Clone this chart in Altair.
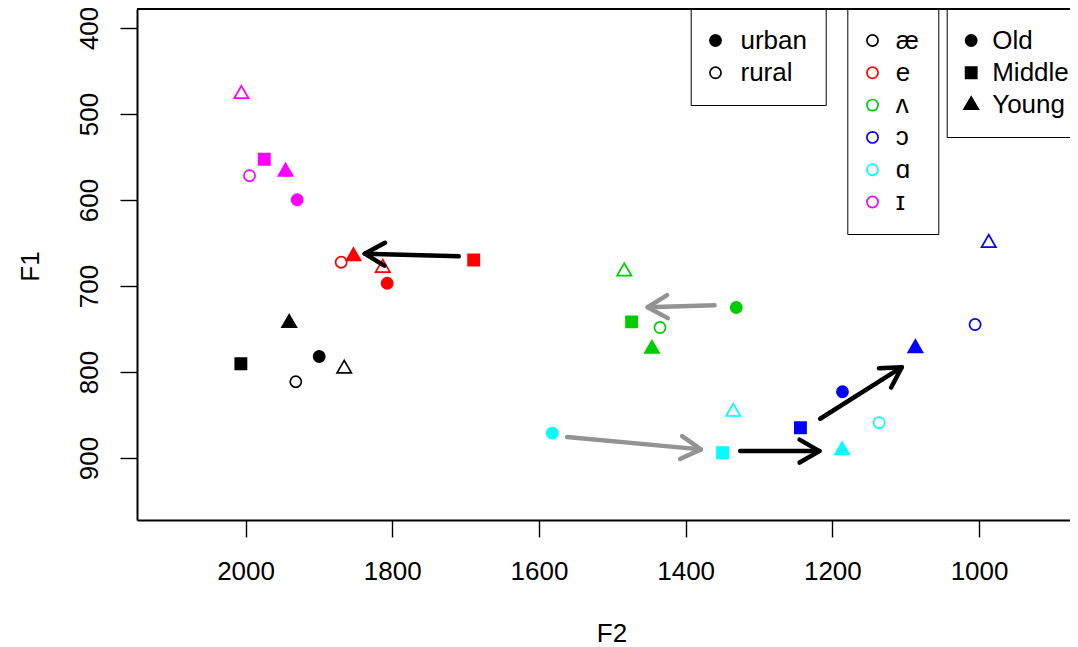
import math
import altair as alt
import pandas as pd

FONT = "Liberation Sans"

# ---------------- data ----------------
vowels = ["æ", "e", "ʌ", "ɔ", "ɑ", "ɪ"]
vowel_colors = ["#000000", "#FF0000", "#00CD00", "#0000FF", "#00FFFF", "#FF00FF"]
ages = ["Old", "Middle", "Young"]
areas = ["urban", "rural"]

pt_vowel = ["æ"] * 5 + ["e"] * 5 + ["ʌ"] * 5 + ["ɔ"] * 5 + ["ɑ"] * 5 + ["ɪ"] * 5
pt_area = ["urban", "urban", "urban", "rural", "rural"] * 6
pt_age = ["Old", "Middle", "Young", "Old", "Young"] * 6
pt_f2 = [1899.6, 2006.4, 1940.5, 1931.5, 1865.5,
         1806.9, 1689.0, 1852.9, 1869.6, 1812.9,
         1331.0, 1473.7, 1446.0, 1435.0, 1483.7,
         1186.2, 1243.5, 1086.8, 1005.4, 986.8,
         1581.7, 1349.7, 1186.6, 1136.2, 1335.1,
         1929.6, 1974.5, 1945.5, 1994.6, 2005.7]
pt_f1 = [781.9, 790.4, 743.1, 811.3, 796.1,
         696.8, 669.7, 665.5, 672.4, 679.0,
         725.0, 741.7, 773.1, 748.3, 683.1,
         822.9, 864.7, 772.3, 744.8, 650.0,
         871.0, 893.8, 891.0, 858.9, 846.3,
         599.7, 552.7, 567.2, 571.8, 476.9]

arrow_f2_from = [1709.4, 1360.6, 1561.7, 1325.6, 1216.6]
arrow_f1_from = [665.5, 722.4, 875.6, 891.9, 854.3]
arrow_f2_to = [1837.5, 1451.9, 1379.2, 1217.6, 1105.3]
arrow_f1_to = [662.4, 724.7, 889.9, 891.9, 794.4]
arrow_kind = ["black", "grey", "grey", "black", "black"]

x_ticks = [2000, 1800, 1600, 1400, 1200, 1000]
y_ticks = [400, 500, 600, 700, 800, 900]

# ---------------- layout ----------------
W, H = 933, 511
X_DOM = [876, 2148]
Y_DOM = [378, 972]
kx = W / (X_DOM[1] - X_DOM[0])
ky = H / (Y_DOM[1] - Y_DOM[0])

points = pd.DataFrame({"vowel": pt_vowel, "area": pt_area, "age": pt_age,
                       "F2": pt_f2, "F1": pt_f1})

angles = []
for a, b, c, d in zip(arrow_f2_from, arrow_f1_from, arrow_f2_to, arrow_f1_to):
    dx = -(c - a) * kx
    dy = (d - b) * ky
    angles.append(math.degrees(math.atan2(dy, dx)) % 360)
arrows = pd.DataFrame({"x1": arrow_f2_from, "y1": arrow_f1_from,
                       "x2": arrow_f2_to, "y2": arrow_f1_to,
                       "kind": arrow_kind, "angle": angles})

TRI = "M0,-1.478L1.28,0.739L-1.28,0.739Z"
HEAD = "M-1,-0.577L0,0L-1,0.577"

xs = alt.Scale(domain=X_DOM, reverse=True, nice=False, zero=False)
ys = alt.Scale(domain=Y_DOM, reverse=True, nice=False, zero=False)

axis_common = dict(grid=False, domainColor="black", domainWidth=2,
                   tickColor="black", tickWidth=1.4, tickSize=17,
                   labelFont=FONT, labelFontSize=26, labelColor="black",
                   titleFont=FONT, titleFontSize=26, titleFontWeight="normal",
                   titleColor="black", labelFlush=False, labelOverlap=False,
                   labelBound=False, format="d")

x_enc = alt.X("F2:Q", scale=xs, axis=alt.Axis(
    values=x_ticks, title="F2", labelBaseline="middle", labelPadding=34.5,
    titleX=474.5, titleY=113.5, titleBaseline="middle", titleAlign="center",
    **axis_common))
y_enc = alt.Y("F1:Q", scale=ys, axis=alt.Axis(
    values=y_ticks, title="F1", labelAngle=270, labelAlign="center",
    labelBaseline="middle", labelPadding=30.5, titleAngle=270,
    titleX=-106.5, titleY=257, titleAlign="center", titleBaseline="middle",
    **axis_common))

leg_common = dict(orient="none", legendY=0, title=None, labelFont=FONT,
                  labelFontSize=26, labelColor="black", padding=18.5,
                  rowPadding=6.3, symbolSize=125, symbolStrokeWidth=1.7,
                  strokeColor="black", symbolOpacity=1)

main = alt.Chart(points).transform_calculate(
    fillkey="datum.area == 'urban' ? datum.vowel : 'none'"
).mark_point(size=125, strokeWidth=1.7, opacity=1).encode(
    x=x_enc,
    y=y_enc,
    stroke=alt.Stroke("vowel:N", scale=alt.Scale(domain=vowels, range=vowel_colors),
                      legend=alt.Legend(legendX=710.3, labelOffset=10.2,
                                        symbolOffset=-6.3,
                                        symbolFillColor="transparent",
                                        symbolType="circle", **leg_common)),
    fill=alt.Fill("fillkey:N", scale=alt.Scale(domain=vowels + ["none"],
                                               range=vowel_colors + ["transparent"]),
                  legend=None),
    shape=alt.Shape("age:N", scale=alt.Scale(domain=ages, range=["circle", "square", TRI]),
                    legend=alt.Legend(legendX=809.7, labelOffset=8,
                                      symbolOffset=-7,
                                      symbolFillColor="black",
                                      symbolStrokeColor="black", **leg_common)),
)

area_legend = alt.Chart(points).mark_point(size=125, opacity=0).encode(
    x=alt.X("F2:Q", scale=xs),
    y=alt.Y("F1:Q", scale=ys),
    fill=alt.Fill("area:N", scale=alt.Scale(domain=areas, range=["black", "white"]),
                  legend=alt.Legend(legendX=553.7, labelOffset=12,
                                    symbolOffset=-6.7,
                                    symbolStrokeColor="black",
                                    symbolType="circle", **leg_common)),
)

top_rule = alt.Chart(points).mark_rule(color="black", strokeWidth=2).encode(
    y=alt.value(0))

layers = [area_legend, main, top_rule]
for kind, col in [("grey", "#939393"), ("black", "#000000")]:
    base = alt.Chart(arrows).transform_filter(alt.datum.kind == kind)
    shaft = base.mark_rule(color=col, strokeWidth=4.5, strokeCap="round").encode(
        x=alt.X("x1:Q", scale=xs), y=alt.Y("y1:Q", scale=ys),
        x2="x2:Q", y2="y2:Q")
    head = base.mark_point(shape=HEAD, size=1580, strokeWidth=4.5, filled=False,
                           opacity=1, color=col, strokeCap="round",
                           strokeJoin="round").encode(
        x=alt.X("x2:Q", scale=xs), y=alt.Y("y2:Q", scale=ys),
        angle=alt.Angle("angle:Q", scale=None))
    layers += [shaft, head]

chart = alt.layer(*layers).resolve_scale(fill="independent").properties(
    width=W, height=H,
    padding={"left": 129, "top": 1, "right": 0, "bottom": 127},
    autosize=alt.AutoSizeParams(type="none"),
    background="white",
).configure_view(stroke=None)

chart.save("out.html", embed_options={"renderer": "svg", "actions": False})
